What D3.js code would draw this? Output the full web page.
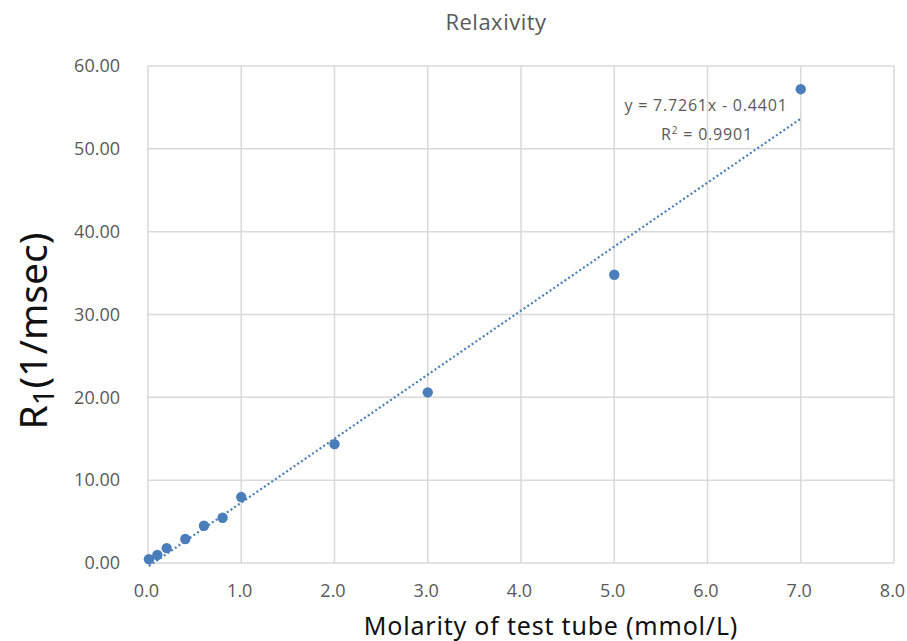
<!DOCTYPE html>
<html><head><meta charset="utf-8">
<script src="https://cdn.jsdelivr.net/npm/d3@7"></script>
<style>body{margin:0;background:#fff;} svg{display:block;}</style>
</head><body>
<svg id="chart" width="907" height="641"></svg>
<script>
const molarity = [0.01, 0.1, 0.2, 0.4, 0.6, 0.8, 1.0, 2.0, 3.0, 5.0, 7.0];
const r1 = [0.45, 0.96, 1.8, 2.9, 4.5, 5.46, 7.96, 14.35, 20.6, 34.8, 57.2];
const xTicks = [0, 1, 2, 3, 4, 5, 6, 7, 8];
const yTicks = [0, 10, 20, 30, 40, 50, 60];
const slope = 7.7261, intercept = -0.4401;
const eqLabel = "y = 7.7261x - 0.4401";
const r2Label = "0.9901";

const svg = d3.select("#chart");
const L = 148, R = 894, T = 66, B = 563;
const x = d3.scaleLinear().domain([0, 8]).range([L, R]);
const y = d3.scaleLinear().domain([0, 60]).range([B, T]);
const grid = "#d9d9d9", tickCol = "#595959", blue = "#4a7ebb";

// gridlines
svg.append("g").selectAll("line").data(xTicks).join("line")
  .attr("x1", d => x(d)).attr("x2", d => x(d)).attr("y1", T).attr("y2", B)
  .attr("stroke", grid).attr("stroke-width", 1.5);
svg.append("g").selectAll("line").data(yTicks).join("line")
  .attr("x1", L).attr("x2", R).attr("y1", d => y(d)).attr("y2", d => y(d))
  .attr("stroke", grid).attr("stroke-width", 1.5);

// axes labels via d3 axes
const xAxis = svg.append("g").attr("transform", `translate(0,${B})`)
  .call(d3.axisBottom(x).tickValues(xTicks).tickFormat(d3.format(".1f")).tickSize(0).tickPadding(21));
const yAxis = svg.append("g").attr("transform", `translate(${L},0)`)
  .call(d3.axisLeft(y).tickValues(yTicks).tickFormat(d3.format(".2f")).tickSize(0).tickPadding(28));
[xAxis, yAxis].forEach(a => {
  a.select(".domain").remove();
  a.selectAll("text").attr("fill", tickCol).style("font-family", "'Open Sans', sans-serif").style("font-size", "18px");
});
xAxis.selectAll("text").attr("dx", -2);

// trendline
const x0 = d3.min(molarity), x1 = d3.max(molarity);
svg.append("line")
  .attr("x1", x(x0)).attr("y1", y(slope * x0 + intercept))
  .attr("x2", x(x1)).attr("y2", y(slope * x1 + intercept))
  .attr("stroke", blue).attr("stroke-width", 2.2).attr("stroke-dasharray", "2,2.5");

// points
svg.append("g").selectAll("circle").data(molarity.map((m, i) => [m, r1[i]])).join("circle")
  .attr("cx", d => x(d[0])).attr("cy", d => y(d[1])).attr("r", 5.2).attr("fill", blue);

// title
svg.append("text").attr("x", 496).attr("y", 30).attr("text-anchor", "middle")
  .attr("fill", tickCol).style("font-family", "'Open Sans', sans-serif").style("font-size", "22px")
  .style("letter-spacing", "0.5px").text("Relaxivity");

// equation
svg.append("text").attr("x", 706).attr("y", 111).attr("text-anchor", "middle")
  .attr("fill", tickCol).style("font-family", "'Open Sans', sans-serif").style("font-size", "16px")
  .style("letter-spacing", "0.8px").text(eqLabel);
const r2 = svg.append("text").attr("x", 707).attr("y", 140).attr("text-anchor", "middle")
  .attr("fill", tickCol).style("font-family", "'Open Sans', sans-serif").style("font-size", "16px")
  .style("letter-spacing", "0.8px");
r2.append("tspan").text("R");
r2.append("tspan").attr("dy", -6).style("font-size", "10px").text("2");
r2.append("tspan").attr("dy", 6).text(" = " + r2Label);

// x title
svg.append("text").attr("x", 551).attr("y", 635).attr("text-anchor", "middle")
  .attr("fill", "#111").style("font-family", "'Noto Sans', sans-serif").style("font-size", "25px")
  .style("letter-spacing", "0.8px").text("Molarity of test tube (mmol/L)");

// y title
const yt = svg.append("text").attr("transform", "translate(47,331) rotate(-90)").attr("text-anchor", "middle")
  .attr("fill", "#111").style("font-family", "'Noto Sans', sans-serif").style("font-size", "39px");
yt.append("tspan").text("R");
yt.append("tspan").attr("dy", 7).style("font-size", "29px").text("1");
yt.append("tspan").attr("dy", -7).text("(1/msec)");
</script>
</body></html>
